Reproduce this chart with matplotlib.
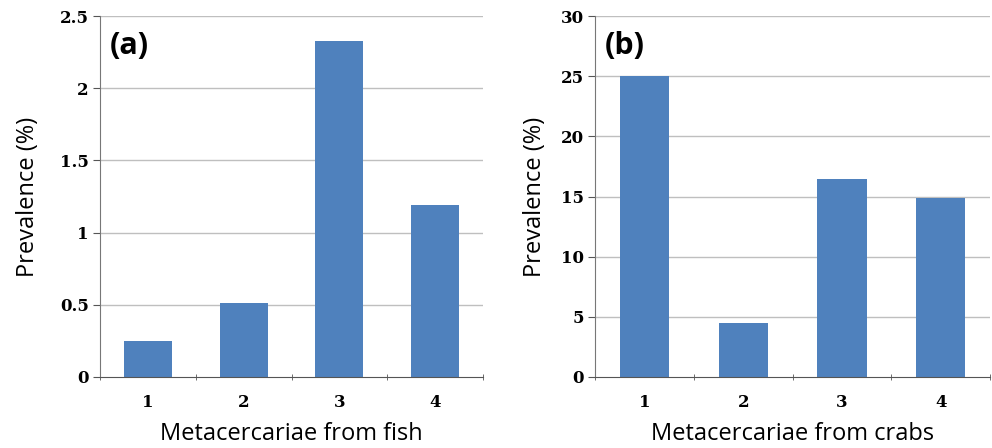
import matplotlib
matplotlib.use('Agg')
import matplotlib.pyplot as plt
import numpy as np

# Prevalence of metacercariae
categories = ['1', '2', '3', '4']
fish_prev = [0.25, 0.51, 2.33, 1.19]
crab_prev = [25.0, 4.45, 16.45, 14.9]

fish_ticks = [0, 0.5, 1, 1.5, 2, 2.5]
fish_tick_labels = ['0', '0.5', '1', '1.5', '2', '2.5']
crab_ticks = [0, 5, 10, 15, 20, 25, 30]
crab_tick_labels = ['0', '5', '10', '15', '20', '25', '30']

bar_color = '#4F81BD'
grid_color = '#BFBFBF'
label_font = 'Open Sans'
tick_font = 'DejaVu Serif'

fig = plt.figure(figsize=(9.92, 4.48), dpi=100)
ax1 = fig.add_axes([0.1008, 0.1585, 0.3862, 0.8055])
ax2 = fig.add_axes([0.600, 0.1585, 0.398, 0.8055])


def draw_panel(ax, values, ticks, tick_labels, xlabel, tag, ypad):
    x = np.arange(len(categories))
    ax.set_axisbelow(True)
    for t in ticks[1:]:
        ax.axhline(t, color=grid_color, lw=1.0, zorder=0)
    ax.bar(x, values, width=0.5, color=bar_color, zorder=2)
    ax.set_xlim(-0.5, len(categories) - 0.5)
    ax.set_ylim(ticks[0], ticks[-1])

    ax.set_yticks(ticks)
    ax.set_yticklabels(tick_labels, fontfamily=tick_font, fontweight='bold', fontsize=12)
    # category labels in the middle, tick marks on the boundaries
    ax.set_xticks(x)
    ax.set_xticklabels(categories, fontfamily=tick_font, fontweight='bold', fontsize=12)
    ax.tick_params(axis='x', which='major', length=0, pad=12)
    ax.set_xticks(np.arange(len(categories) + 1) - 0.5, minor=True)
    ax.tick_params(axis='x', which='minor', length=5, direction='inout', color='#555555')
    ax.tick_params(axis='y', length=5, direction='out', color='#555555', pad=3)

    for side in ['top', 'right']:
        ax.spines[side].set_visible(False)
    ax.spines['left'].set_color('#777777')
    ax.spines['bottom'].set_color('#555555')

    ax.set_ylabel('Prevalence (%)', fontfamily=label_font, fontsize=17, labelpad=ypad)
    ax.set_xlabel(xlabel, fontfamily=label_font, fontsize=17, labelpad=8)
    ax.text(0.025, 0.96, tag, transform=ax.transAxes, fontfamily=label_font,
            fontweight='bold', fontsize=22, va='top', ha='left')


draw_panel(ax1, fish_prev, fish_ticks, fish_tick_labels, 'Metacercariae from fish', '(a)', 14)
draw_panel(ax2, crab_prev, crab_ticks, crab_tick_labels, 'Metacercariae from crabs', '(b)', 10)

fig.savefig('out.png', dpi=100)
